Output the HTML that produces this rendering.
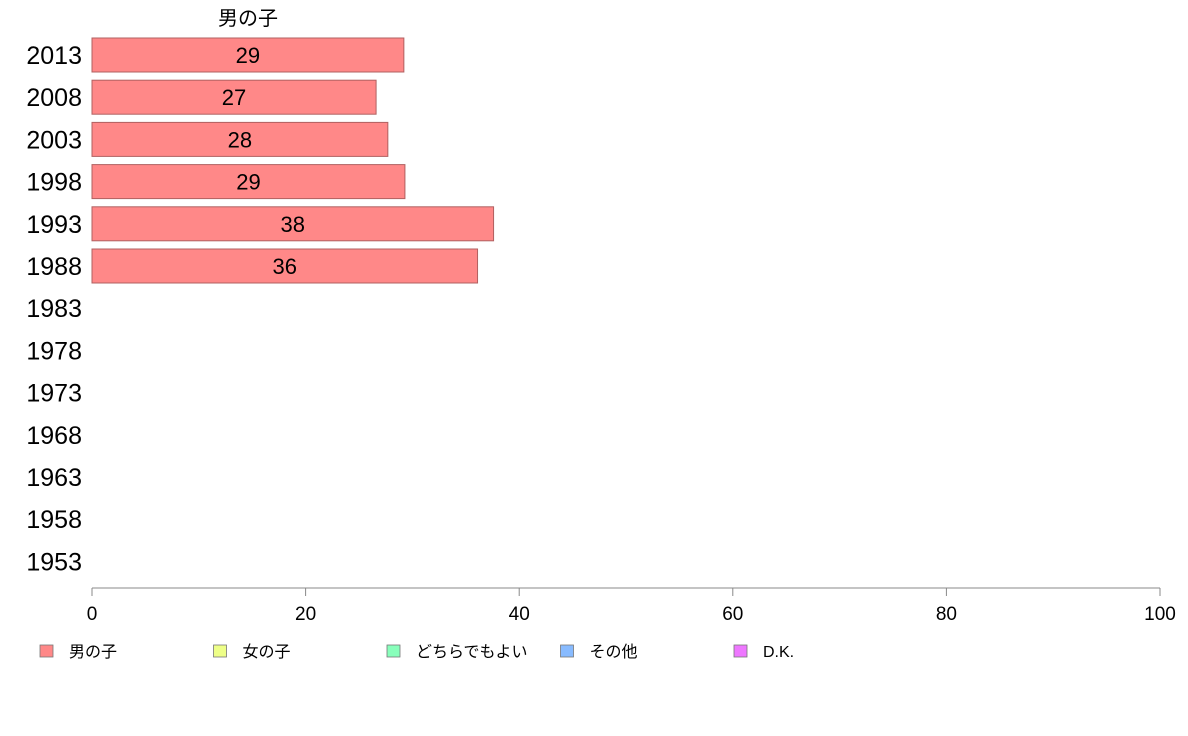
<!DOCTYPE html>
<html><head><meta charset="utf-8">
<style>
body{margin:0;background:#fff;}
svg{display:block;font-family:"Liberation Sans","Noto Sans CJK JP",sans-serif;}
</style></head>
<body>
<svg id="chart" width="1188" height="736" viewBox="0 0 1188 736" xmlns="http://www.w3.org/2000/svg">
<text x="248" y="25" font-size="20" text-anchor="middle" fill="#000">男の子</text>
<g id="bars"></g>
<g id="ylabels"></g>
<g id="xaxis"></g>
<g id="legend"></g>
</svg>
<script>
const years = ["2013","2008","2003","1998","1993","1988","1983","1978","1973","1968","1963","1958","1953"];
const boys = [29.2, 26.6, 27.7, 29.3, 37.6, 36.1, null, null, null, null, null, null, null];
const xTicks = [0, 20, 40, 60, 80, 100];
const legendLabels = ["男の子","女の子","どちらでもよい","その他","D.K."];
const legendColors = ["#ff8888","#eeff88","#88ffbb","#88bbff","#ee77ff"];

const NS = "http://www.w3.org/2000/svg";
const x0 = 92, x1 = 1160, yTop = 55, yStep = 42.2, barH = 34, axisY = 588;
const xs = v => x0 + (v / 100) * (x1 - x0);
const ys = i => yTop + i * yStep;
function mk(tag, attrs, parent, text) {
  const e = document.createElementNS(NS, tag);
  for (const k in attrs) e.setAttribute(k, attrs[k]);
  if (text !== undefined) e.textContent = text;
  parent.appendChild(e);
  return e;
}
const gb = document.getElementById("bars"), gy = document.getElementById("ylabels");
const gx = document.getElementById("xaxis"), gl = document.getElementById("legend");

years.forEach((y, i) => {
  const t = mk("text", {x: 82, y: ys(i) + 9, "font-size": 25, "text-anchor": "end", fill: "#000"}, gy, y);
  
  
  const v = boys[i];
  if (v != null) {
    const r = mk("rect", {x: x0, y: ys(i) - barH / 2, width: xs(v) - x0, height: barH, fill: "#ff8888", stroke: "#b06060", "stroke-width": 1}, gb);
    
    
    const l = mk("text", {x: (x0 + xs(v)) / 2, y: ys(i) + 8, "font-size": 22, "text-anchor": "middle", fill: "#000"}, gb, Math.round(v));
    
    
  }
});

const ax = mk("line", {x1: x0, x2: x1, y1: axisY, y2: axisY, stroke: "#888", "stroke-width": 1}, gx);


xTicks.forEach(t => {
  const tk = mk("line", {x1: xs(t), x2: xs(t), y1: axisY, y2: axisY + 8, stroke: "#888", "stroke-width": 1}, gx);
  
  
  const tl = mk("text", {x: xs(t), y: axisY + 32, "font-size": 19, "text-anchor": "middle", fill: "#000"}, gx, t);
  
  
});

legendLabels.forEach((lab, i) => {
  const lx = 40 + i * 173.5;
  const g = mk("g", {}, gl);
  
  
  mk("rect", {x: lx, y: 645, width: 13, height: 12, fill: legendColors[i], stroke: "#777", "stroke-width": 0.8}, g);
  mk("text", {x: lx + 29, y: 657, "font-size": 16, fill: "#000"}, g, lab);
});
</script>
</body></html>
